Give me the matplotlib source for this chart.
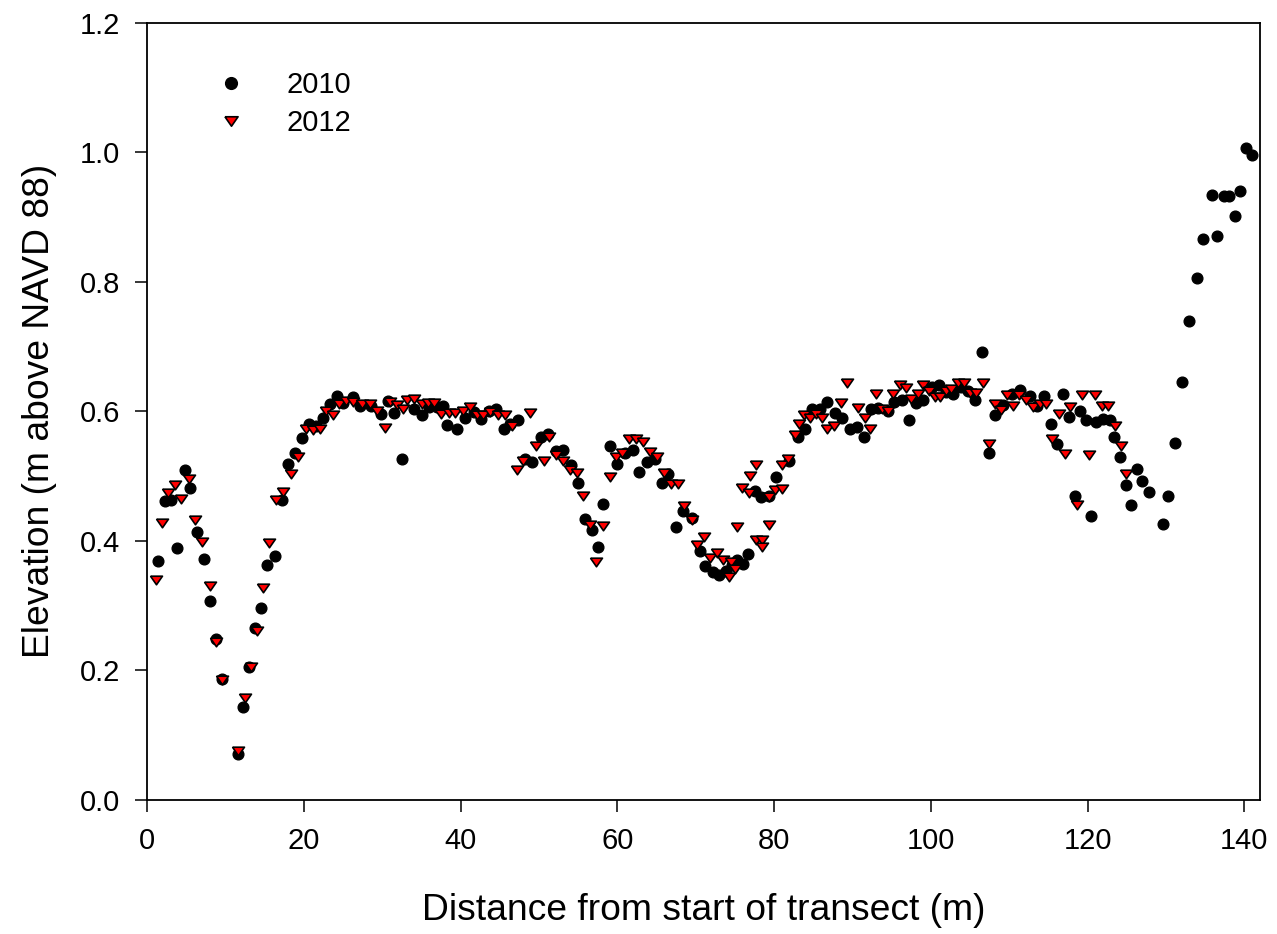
import numpy as np
import matplotlib
matplotlib.use('Agg')
import matplotlib.pyplot as plt

plt.rcParams['font.family'] = ['Liberation Sans', 'DejaVu Sans']

# 2010 survey: distance (m) and elevation (m above NAVD 88)
x_2010 = [1.38, 2.23, 3.08, 3.85, 4.82, 5.46, 6.39, 7.24, 7.97, 8.82, 9.5, 11.54, 12.26, 13.0,
          13.7, 14.5, 15.3, 16.3, 17.2, 18.0, 18.9, 19.8, 20.6, 21.5, 22.4, 23.3, 24.2, 25.0,
          26.2, 27.2, 28.5, 29.8, 30.7, 31.5, 32.5, 34.0, 35.1, 36.0, 37.0, 37.8, 38.3, 39.5,
          40.5, 41.7, 42.6, 43.6, 44.55, 45.5, 46.3, 47.3, 48.2, 49.1, 50.2, 51.2, 52.2, 53.1,
          54.1, 54.97, 55.8, 56.7, 57.5, 58.2, 59.1, 59.9, 61.0, 62.0, 62.8, 63.8, 64.8, 65.7,
          66.5, 67.5, 68.4, 69.5, 70.5, 71.2, 72.2, 73.0, 73.9, 74.6, 75.2, 76.0, 76.6, 77.6,
          78.3, 79.4, 80.2, 81.9, 83.0, 83.9, 84.8, 85.8, 86.7, 87.8, 88.7, 89.7, 90.6, 91.5,
          92.4, 93.3, 94.5, 95.3, 96.3, 97.2, 98.1, 99.0, 100.1, 101.0, 101.9, 102.8, 103.8,
          104.8, 105.6, 106.5, 107.4, 108.2, 109.2, 110.3, 111.4, 112.6, 113.6, 114.4, 115.3,
          116.1, 116.9, 117.6, 118.4, 119.0, 119.85, 120.4, 121.1, 121.96, 122.8, 123.4, 124.1,
          124.9, 125.6, 126.3, 126.9, 127.8, 129.6, 130.25, 131.1, 132.0, 133.0, 133.9, 134.7,
          135.9, 136.5, 137.4, 138.1, 138.75, 139.5, 140.2, 140.96]
y_2010 = [0.369, 0.461, 0.463, 0.389, 0.509, 0.482, 0.414, 0.372, 0.307, 0.248, 0.187, 0.071,
          0.143, 0.205, 0.265, 0.296, 0.363, 0.377, 0.463, 0.519, 0.535, 0.559, 0.580, 0.578,
          0.589, 0.611, 0.624, 0.613, 0.622, 0.609, 0.609, 0.596, 0.616, 0.598, 0.527, 0.604,
          0.594, 0.606, 0.606, 0.608, 0.579, 0.573, 0.589, 0.599, 0.588, 0.601, 0.604, 0.572,
          0.581, 0.586, 0.526, 0.522, 0.560, 0.565, 0.539, 0.541, 0.517, 0.489, 0.434, 0.417,
          0.390, 0.457, 0.546, 0.518, 0.536, 0.540, 0.506, 0.522, 0.527, 0.490, 0.503, 0.421,
          0.446, 0.436, 0.385, 0.361, 0.352, 0.347, 0.353, 0.362, 0.370, 0.365, 0.380, 0.477,
          0.468, 0.469, 0.499, 0.524, 0.560, 0.573, 0.604, 0.604, 0.614, 0.598, 0.589, 0.572,
          0.576, 0.560, 0.603, 0.605, 0.600, 0.614, 0.618, 0.587, 0.613, 0.617, 0.637, 0.640,
          0.630, 0.626, 0.637, 0.632, 0.618, 0.691, 0.536, 0.594, 0.610, 0.626, 0.633, 0.623,
          0.609, 0.623, 0.580, 0.549, 0.626, 0.591, 0.469, 0.600, 0.587, 0.439, 0.583, 0.588,
          0.587, 0.561, 0.530, 0.487, 0.456, 0.511, 0.492, 0.475, 0.426, 0.469, 0.551, 0.645,
          0.740, 0.806, 0.866, 0.934, 0.871, 0.933, 0.933, 0.901, 0.940, 1.007, 0.995]

# 2012 survey
x_2012 = [1.08, 1.85, 2.7, 3.5, 4.36, 5.33, 6.1, 6.95, 7.97, 8.82, 9.58, 11.54, 12.47, 13.2,
          13.96, 14.8, 15.6, 16.4, 17.3, 18.4, 19.3, 20.2, 21.1, 22.0, 22.75, 23.7, 24.45, 25.3,
          26.2, 27.4, 28.4, 29.3, 30.3, 31.0, 31.9, 32.7, 33.2, 34.1, 35.0, 35.8, 36.6, 37.5,
          38.5, 39.3, 40.3, 41.2, 42.1, 42.9, 43.8, 44.7, 45.6, 46.5, 47.2, 48.0, 48.9, 49.6,
          50.6, 51.3, 52.2, 53.1, 54.0, 54.8, 55.6, 56.5, 57.3, 58.1, 59.0, 59.85, 60.6, 61.5,
          62.4, 63.25, 64.2, 65.1, 66.0, 66.8, 67.7, 68.55, 69.5, 70.1, 71.1, 71.8, 72.7, 73.5,
          74.3, 74.5, 75.0, 75.2, 75.9, 76.8, 76.9, 77.7, 77.7, 78.5, 78.5, 79.4, 79.4, 80.1,
          81.0, 81.0, 81.8, 82.6, 83.2, 83.8, 84.6, 85.3, 86.1, 86.8, 87.7, 88.5, 89.25, 90.7,
          91.6, 92.2, 93.0, 93.7, 94.5, 95.2, 96.0, 96.8, 97.5, 98.3, 99.0, 99.8, 100.5, 101.1,
          101.9, 102.6, 103.4, 104.2, 105.0, 105.7, 106.6, 107.4, 108.2, 109.0, 109.7, 110.5,
          111.3, 112.2, 113.0, 113.9, 114.7, 115.5, 116.3, 117.1, 117.7, 118.6, 119.3, 120.2,
          121.0, 121.8, 122.6, 123.5, 124.3, 124.9]
y_2012 = [0.340, 0.428, 0.474, 0.487, 0.464, 0.496, 0.432, 0.399, 0.331, 0.244, 0.185, 0.076,
          0.157, 0.206, 0.261, 0.327, 0.397, 0.463, 0.475, 0.504, 0.530, 0.572, 0.571, 0.572,
          0.601, 0.595, 0.611, 0.616, 0.614, 0.611, 0.612, 0.601, 0.575, 0.614, 0.610, 0.604,
          0.617, 0.619, 0.612, 0.613, 0.613, 0.596, 0.598, 0.598, 0.601, 0.606, 0.594, 0.594,
          0.599, 0.594, 0.594, 0.578, 0.510, 0.524, 0.598, 0.546, 0.524, 0.560, 0.532, 0.523,
          0.510, 0.505, 0.470, 0.424, 0.367, 0.423, 0.498, 0.529, 0.535, 0.558, 0.558, 0.553,
          0.537, 0.530, 0.505, 0.488, 0.488, 0.454, 0.432, 0.393, 0.406, 0.373, 0.381, 0.371,
          0.345, 0.368, 0.356, 0.421, 0.481, 0.474, 0.500, 0.517, 0.402, 0.402, 0.390, 0.467,
          0.424, 0.479, 0.480, 0.517, 0.527, 0.563, 0.580, 0.594, 0.590, 0.596, 0.590, 0.573,
          0.578, 0.613, 0.643, 0.605, 0.590, 0.572, 0.627, 0.604, 0.601, 0.626, 0.640, 0.636,
          0.619, 0.626, 0.641, 0.632, 0.622, 0.622, 0.631, 0.635, 0.643, 0.643, 0.628, 0.629,
          0.643, 0.550, 0.611, 0.602, 0.625, 0.609, 0.625, 0.617, 0.607, 0.611, 0.611, 0.558,
          0.596, 0.534, 0.607, 0.456, 0.625, 0.532, 0.625, 0.609, 0.609, 0.577, 0.546, 0.504]

x_ticks = [0, 20, 40, 60, 80, 100, 120, 140]
y_ticks = [0.0, 0.2, 0.4, 0.6, 0.8, 1.0, 1.2]

# downward triangle, wider than tall
tri = [(-1, 0.72), (1, 0.72), (0, -0.72), (-1, 0.72)]

fig = plt.figure(figsize=(12.77, 9.34), dpi=100)
ax = fig.add_axes([0.1153, 0.1435, 0.8714, 0.8322])

ax.plot(x_2010, y_2010, linestyle='none', marker='o', markersize=7.7,
        markerfacecolor='black', markeredgecolor='black', label='2010', zorder=2)
ax.plot(x_2012, y_2012, linestyle='none', marker=tri, markersize=8.6,
        markerfacecolor='#ff0000', markeredgecolor='black', markeredgewidth=1.2,
        label='2012', zorder=3)

ax.set_xlim(0, 142)
ax.set_ylim(0, 1.2)
ax.set_xticks(x_ticks)
ax.set_yticks(y_ticks)
ax.set_yticklabels([f'{v:.1f}' for v in y_ticks])

for side in ['top', 'right', 'left', 'bottom']:
    ax.spines[side].set_linewidth(1.3)
ax.tick_params(direction='out', length=8.6, width=1.1, labelsize=21, pad=11,
               top=False, right=False)

ax.set_xlabel('Distance from start of transect (m)', fontsize=26.8, labelpad=27)
ax.set_ylabel('Elevation (m above NAVD 88)', fontsize=26.8, labelpad=16)

ax.legend(loc='upper left', bbox_to_anchor=(0.039, 0.972), frameon=False,
          fontsize=21, handletextpad=1.4, labelspacing=0.36, markerscale=1.1,
          handlelength=1.0)

fig.savefig('out.png', dpi=100)
